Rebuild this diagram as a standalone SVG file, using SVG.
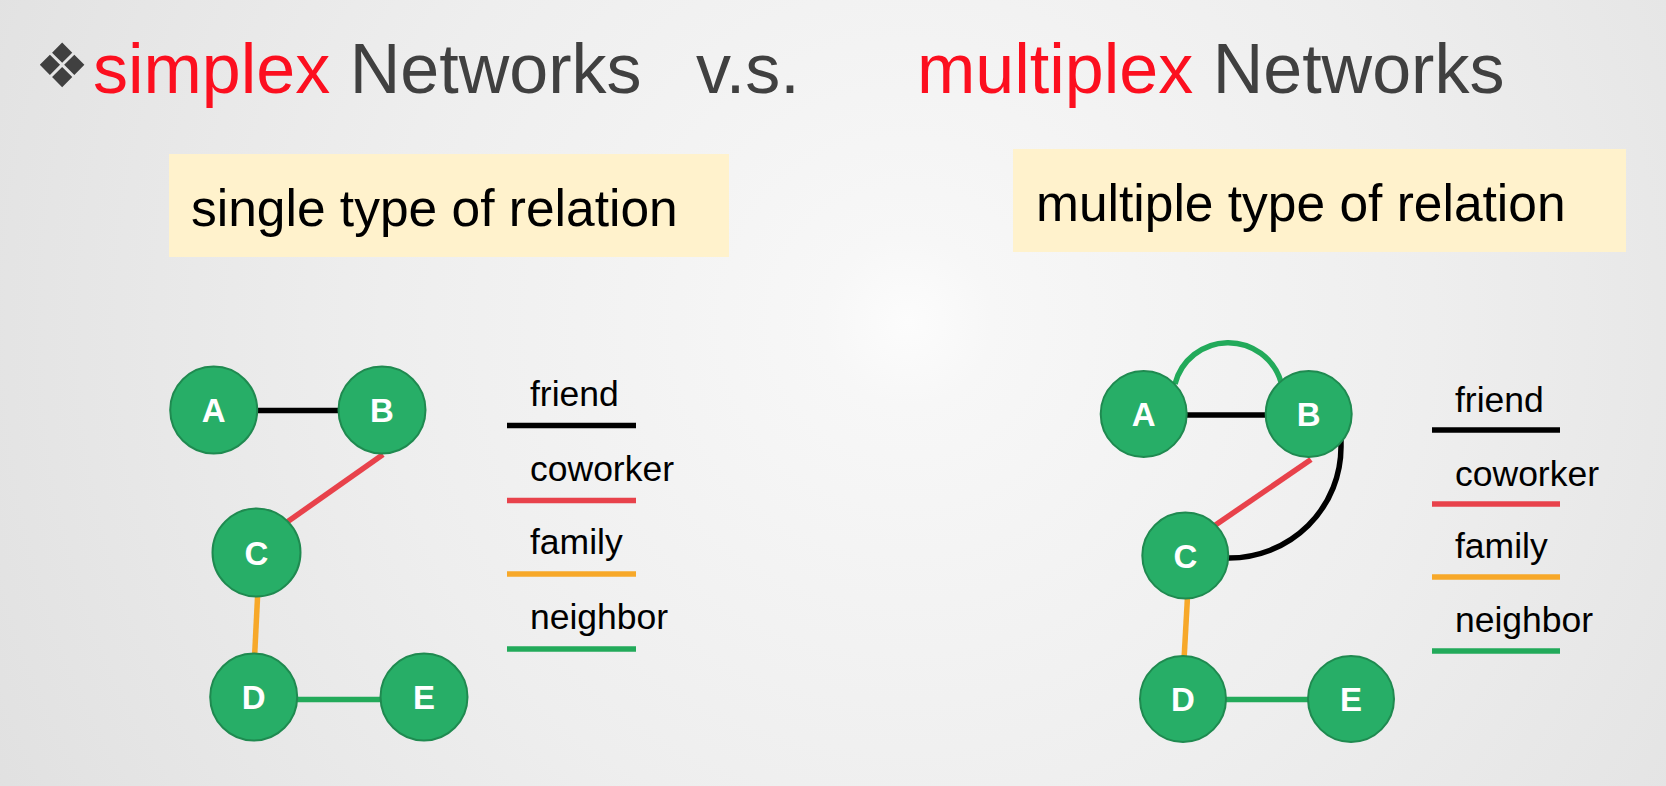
<svg xmlns="http://www.w3.org/2000/svg" width="1666" height="786" viewBox="0 0 1666 786">
<defs>
<radialGradient id="bg" cx="908" cy="322" r="1050" gradientUnits="userSpaceOnUse">
<stop offset="0" stop-color="#fcfcfc"/>
<stop offset="0.08" stop-color="#f7f7f7"/>
<stop offset="0.5" stop-color="#eeeeee"/>
<stop offset="1" stop-color="#e0e0e0"/>
</radialGradient>
<style>
.title{font-family:"Liberation Sans",Arial,sans-serif;font-size:70px}
.red{fill:#fc0f1f}
.gray{fill:#404040}
.box{fill:#fff2cc}
.boxt{font-family:"Liberation Sans",Arial,sans-serif;font-size:51.5px;fill:#000}
.node circle{fill:#27ae67;stroke:#1f8a50;stroke-width:2}
.node text{font-family:"Liberation Sans",Arial,sans-serif;font-size:33px;font-weight:bold;fill:#fff;text-anchor:middle}
.leg{font-family:"Liberation Sans",Arial,sans-serif;font-size:35.5px;fill:#000}
.e{fill:none;stroke-width:5.5}
.friend{stroke:#000}
.cow{stroke:#e8424b}
.fam{stroke:#f7a829}
.nei{stroke:#22aa5a}
</style>
</defs>
<rect width="1666" height="786" fill="url(#bg)"/>

<g id="title">
<text x="62" y="87" font-family="DejaVu Sans,sans-serif" font-size="61" text-anchor="middle" class="gray">❖</text>
<text class="title" y="93"><tspan x="93" class="red">simplex</tspan><tspan class="gray"> Networks</tspan></text>
<text class="title gray" x="696" y="93">v.s.</text>
<text class="title" y="93"><tspan x="917" class="red">multiplex</tspan><tspan class="gray"> Networks</tspan></text>
</g>

<g id="box-left">
<rect class="box" x="169" y="154" width="560" height="103"/>
<text class="boxt" x="191" y="226">single type of relation</text>
</g>
<g id="box-right">
<rect class="box" x="1013" y="149" width="613" height="103"/>
<text class="boxt" x="1036" y="221">multiple type of relation</text>
</g>

<g id="connectors">
<line class="e friend" x1="214" y1="410.5" x2="382" y2="410.5"/>
<line class="e cow" x1="383" y1="454.5" x2="285" y2="523.5"/>
<line class="e fam" x1="257.8" y1="592" x2="254.4" y2="660"/>
<line class="e nei" x1="254" y1="699.5" x2="424" y2="699.5"/>

<path class="e nei" d="M1175,384 A55,55 0 0 1 1281,382"/>
<line class="e friend" x1="1144" y1="415" x2="1309" y2="415"/>
<path class="e friend" d="M1341,430 L1341,447 A112,111 0 0 1 1229,558 L1200,558"/>
<line class="e cow" x1="1311" y1="459.5" x2="1214" y2="526"/>
<line class="e fam" x1="1187.6" y1="595" x2="1184" y2="660"/>
<line class="e nei" x1="1183" y1="699.5" x2="1351" y2="699.5"/>

<line class="e friend" stroke-width="6" x1="507" y1="425.5" x2="636" y2="425.5"/>
<line class="e cow" stroke-width="6" x1="507" y1="500.5" x2="636" y2="500.5"/>
<line class="e fam" stroke-width="6" x1="507" y1="574" x2="636" y2="574"/>
<line class="e nei" stroke-width="6" x1="507" y1="649" x2="636" y2="649"/>

<line class="e friend" stroke-width="6" x1="1432" y1="430" x2="1560" y2="430"/>
<line class="e cow" stroke-width="6" x1="1432" y1="504" x2="1560" y2="504"/>
<line class="e fam" stroke-width="6" x1="1432" y1="577" x2="1560" y2="577"/>
<line class="e nei" stroke-width="6" x1="1432" y1="651" x2="1560" y2="651"/>
</g>

<g id="legend-left">
<text class="leg" x="530" y="406">friend</text>
<text class="leg" x="530" y="481">coworker</text>
<text class="leg" x="530" y="554">family</text>
<text class="leg" x="530" y="629">neighbor</text>
</g>
<g id="legend-right">
<text class="leg" x="1455" y="411.5">friend</text>
<text class="leg" x="1455" y="485.5">coworker</text>
<text class="leg" x="1455" y="558">family</text>
<text class="leg" x="1455" y="632">neighbor</text>
</g>

<g id="L-A" class="node"><circle cx="213.7" cy="410" r="43.5"/><text x="213.7" y="422">A</text></g>
<g id="L-B" class="node"><circle cx="382" cy="410" r="43.5"/><text x="382" y="422">B</text></g>
<g id="L-C" class="node"><circle cx="256.5" cy="552.5" r="44"/><text x="256.5" y="564.5">C</text></g>
<g id="L-D" class="node"><circle cx="253.7" cy="697" r="43.5"/><text x="253.7" y="709">D</text></g>
<g id="L-E" class="node"><circle cx="424" cy="697" r="43.5"/><text x="424" y="709">E</text></g>

<g id="R-A" class="node"><circle cx="1143.7" cy="414" r="43"/><text x="1143.7" y="426">A</text></g>
<g id="R-B" class="node"><circle cx="1308.7" cy="414" r="43"/><text x="1308.7" y="426">B</text></g>
<g id="R-C" class="node"><circle cx="1185.3" cy="555.5" r="43"/><text x="1185.3" y="567.5">C</text></g>
<g id="R-D" class="node"><circle cx="1183" cy="699" r="43"/><text x="1183" y="711">D</text></g>
<g id="R-E" class="node"><circle cx="1351" cy="699" r="43"/><text x="1351" y="711">E</text></g>
</svg>
